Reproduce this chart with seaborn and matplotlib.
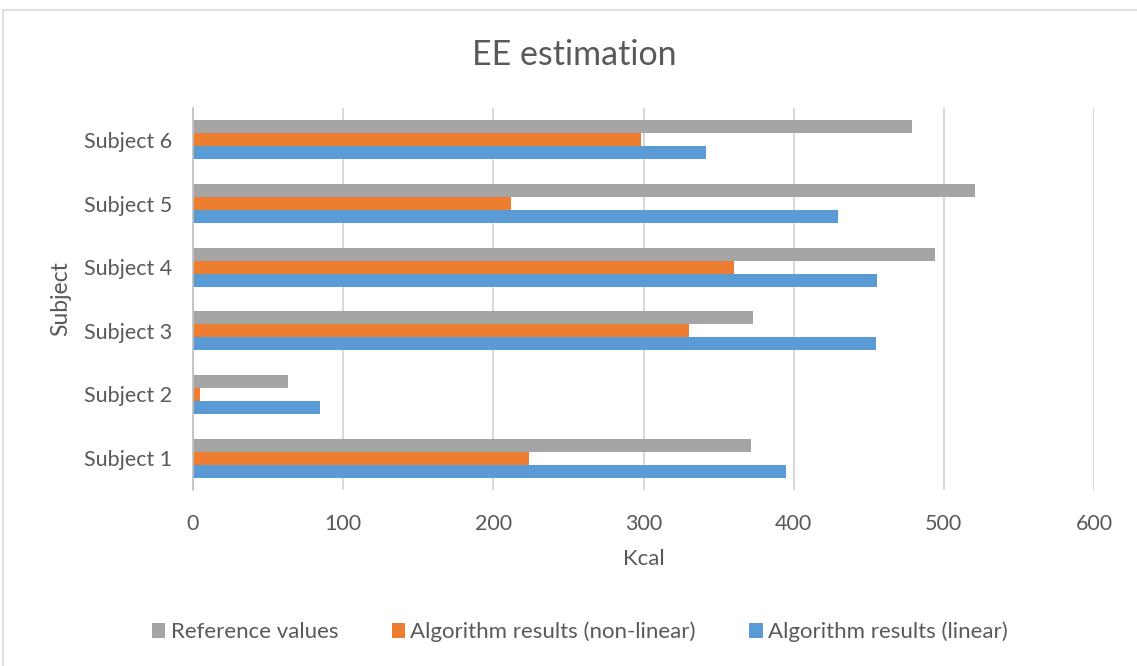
import matplotlib
matplotlib.use("Agg")
import matplotlib.pyplot as plt
from matplotlib.patches import Rectangle, Patch
import seaborn as sns
import pandas as pd

subjects = ["Subject 6", "Subject 5", "Subject 4", "Subject 3", "Subject 2", "Subject 1"]
reference_values = [478.5, 520.6, 494.4, 373.0, 63.5, 371.3]
nonlinear_results = [298.3, 211.5, 360.4, 330.4, 4.4, 223.5]
linear_results = [341.5, 429.6, 455.6, 454.9, 84.6, 394.8]

series_names = ["Reference values", "Algorithm results (non-linear)", "Algorithm results (linear)"]
series_colors = ["#a5a5a5", "#ed7d31", "#5b9bd5"]
x_ticks = [0, 100, 200, 300, 400, 500, 600]

rows = []
for name, vals in zip(series_names, [reference_values, nonlinear_results, linear_results]):
    for s, v in zip(subjects, vals):
        rows.append({"Subject": s, "Kcal": v, "Series": name})
df = pd.DataFrame(rows)

sns.set_theme(style="white")
plt.rcParams["font.family"] = ["Lato", "DejaVu Sans"]
text_color = "#595959"

fig = plt.figure(figsize=(11.37, 6.66), dpi=100)
ax = fig.add_axes([193 / 1137, 1 - 490 / 666, (1094 - 193) / 1137, (490 - 108) / 666])

sns.barplot(data=df, y="Subject", x="Kcal", hue="Series", order=subjects,
            hue_order=series_names, palette=series_colors, orient="h",
            width=0.61, saturation=1, linewidth=0, ax=ax, legend=False)

ax.set_xlim(0, 600)
ax.set_ylim(5.5, -0.5)
ax.set_xticks(x_ticks)
ax.set_xticklabels([str(t) for t in x_ticks])
ax.xaxis.grid(True, color="#d9d9d9", linewidth=1.5)
ax.set_axisbelow(True)
for side in ["top", "right", "bottom"]:
    ax.spines[side].set_visible(False)
ax.spines["left"].set_color("#bfbfbf")
ax.spines["left"].set_linewidth(1.2)
ax.tick_params(axis="both", length=0, labelsize=15.5, labelcolor=text_color)
ax.tick_params(axis="x", pad=17)
ax.tick_params(axis="y", pad=15)

ax.set_xlabel("Kcal", fontsize=16, color=text_color, labelpad=11)
ax.set_ylabel("Subject", fontsize=16.5, color=text_color, labelpad=9)

fig.text(0.505, 1 - 55 / 666, "EE estimation", ha="center", va="center",
         fontsize=24.5, color=text_color)

handles = [Patch(facecolor=c, edgecolor="none") for c in series_colors]
fig.legend(handles, series_names, loc="center", bbox_to_anchor=(0.51, 1 - 632 / 666),
           ncol=3, frameon=False, fontsize=16, labelcolor=text_color,
           handlelength=0.6, handleheight=0.6, handletextpad=0.25, columnspacing=2.4)

fig.patches.append(Rectangle((3 / 1137, -0.05), 1.1, 1 - 10 / 666 + 0.05,
                             transform=fig.transFigure, fill=False,
                             edgecolor="#d9d9d9", linewidth=1.2))

fig.savefig("out.png", dpi=100, facecolor="white")
